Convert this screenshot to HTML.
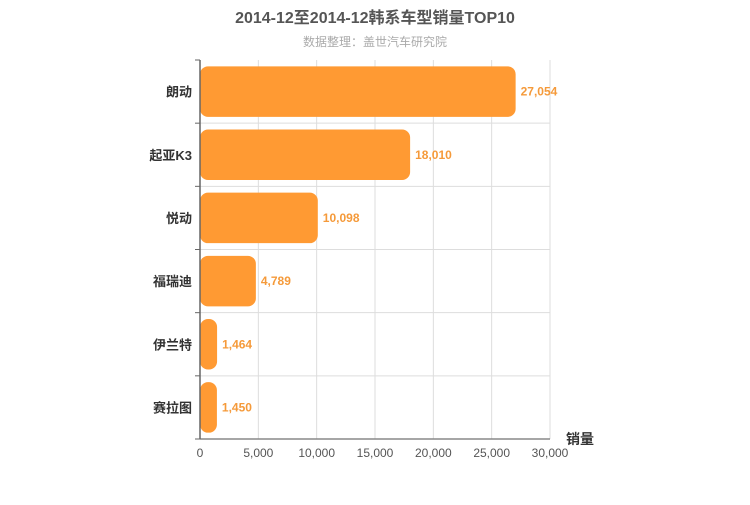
<!DOCTYPE html>
<html><head><meta charset="utf-8"><style>
body{margin:0;background:#fff;font-family:"Liberation Sans","Noto Sans CJK SC",sans-serif}
</style></head><body>
<svg width="750" height="500" xmlns="http://www.w3.org/2000/svg" font-family="Liberation Sans, Noto Sans CJK SC, sans-serif">
<text x="375" y="23" text-anchor="middle" font-size="16" font-weight="bold" fill="#555">2014-12至2014-12韩系车型销量TOP10</text>
<text x="375" y="46" text-anchor="middle" font-size="12" fill="#aaa">数据整理：盖世汽车研究院</text>
<g id="grid"></g><g id="bars"></g><g id="axes"></g>
<text x="580" y="444" text-anchor="middle" font-size="14" font-weight="bold" fill="#333">销量</text>
</svg>
<script>
const categories=["朗动","起亚K3","悦动","福瑞迪","伊兰特","赛拉图"];
const values=[27054,18010,10098,4789,1464,1450];
const ticks=[0,5000,10000,15000,20000,25000,30000];
const tickLabels=["0","5,000","10,000","15,000","20,000","25,000","30,000"];
const NS="http://www.w3.org/2000/svg";
const L=200,R=550,T=60,B=439,max=30000;
const x=v=>L+(v/max)*(R-L);
const band=(B-T)/categories.length;
const y=i=>T+i*band;
function mk(t,a,p){const e=document.createElementNS(NS,t);for(const k in a)e.setAttribute(k,a[k]);p.appendChild(e);return e;}
const g=document.getElementById('grid'),bg=document.getElementById('bars'),ax=document.getElementById('axes');
ticks.forEach((t,i)=>{
 if(i>0){const l=mk('line',{x1:x(t),x2:x(t),y1:T,y2:B,stroke:'#ddd'},g);
 
 }
 const tx=mk('text',{x:x(t),y:B+18,'text-anchor':'middle','font-size':12,fill:'#555'},ax);tx.textContent=tickLabels[i];
 
 
});
for(let i=1;i<categories.length;i++){const l=mk('line',{x1:L,x2:R,y1:y(i),y2:y(i),stroke:'#ddd'},g);
 
 }
for(let i=0;i<=categories.length;i++){const l=mk('line',{x1:L-5,x2:L,y1:y(i),y2:y(i),stroke:'#666'},ax);
 
 }
const xl=mk('line',{x1:L,x2:R,y1:B,y2:B,stroke:'#888','stroke-width':1.5},ax);


const yl=mk('line',{x1:L,x2:L,y1:T,y2:B,stroke:'#666','stroke-width':1.5},ax);


categories.forEach((c,i)=>{
 const h=band*0.8, yy=y(i)+(band-h)/2;
 const r=mk('rect',{x:L,y:yy,width:x(values[i])-L,height:h,rx:8,fill:'#ff9a33'},bg);
 
 
 const vl=mk('text',{x:x(values[i])+5,y:y(i)+band/2+4,'font-size':12,fill:'#f59a3a','font-weight':'bold'},bg);vl.textContent=values[i].toLocaleString('en-US');
 
 
 const cl=mk('text',{x:L-8,y:y(i)+band/2+5,'text-anchor':'end','font-size':13,fill:'#333','font-weight':'bold'},ax);cl.textContent=c;
 
 
});
</script>
</body></html>
